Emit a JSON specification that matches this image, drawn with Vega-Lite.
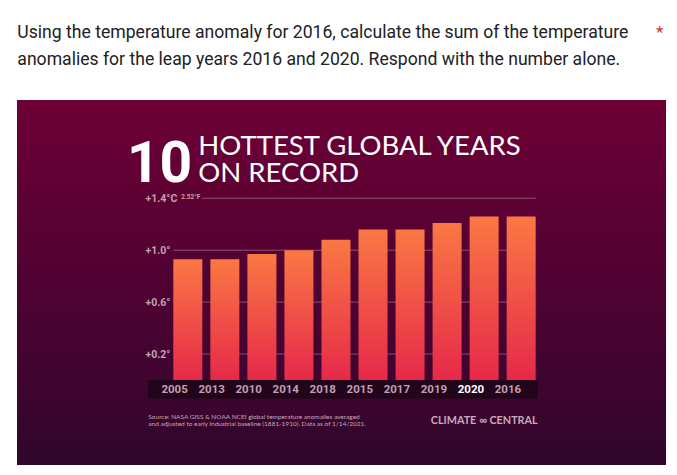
{
  "$schema": "https://vega.github.io/schema/vega-lite/v6.json",
  "width": 649,
  "height": 365,
  "autosize": {"type": "none"},
  "padding": {"left": 17, "top": 100, "right": 11, "bottom": 10},
  "background": "#ffffff",
  "config": {"view": {"stroke": null}},
  "data": {
    "values": [
      {"year": "2005", "anomaly": 0.93},
      {"year": "2013", "anomaly": 0.93},
      {"year": "2010", "anomaly": 0.97},
      {"year": "2014", "anomaly": 1.0},
      {"year": "2018", "anomaly": 1.08},
      {"year": "2015", "anomaly": 1.16},
      {"year": "2017", "anomaly": 1.16},
      {"year": "2019", "anomaly": 1.21},
      {"year": "2020", "anomaly": 1.26},
      {"year": "2016", "anomaly": 1.26}
    ]
  },
  "resolve": {"scale": {"x": "shared", "y": "shared"}},
  "layer": [
    {
      "data": {"values": [{"panel": "background"}]},
      "mark": {
        "type": "rect",
        "fill": {"gradient": "linear", "x1": 0, "y1": 0, "x2": 0, "y2": 1,
          "stops": [{"offset": 0, "color": "#6e0035"}, {"offset": 0.5, "color": "#500232"}, {"offset": 1, "color": "#30062d"}]}
      },
      "encoding": {}
    },
    {
      "data": {"values": [{"level": 1.0}, {"level": 0.6}, {"level": 0.2}]},
      "mark": {"type": "rule", "color": "#ffffff", "opacity": 0.32, "strokeWidth": 1},
      "encoding": {
        "y": {"field": "level", "type": "quantitative"},
        "x": {"datum": "2005", "type": "nominal", "bandPosition": 0},
        "x2": {"datum": "2016", "bandPosition": 1}
      }
    },
    {
      "data": {"values": [{"level": 1.4}]},
      "mark": {"type": "rule", "color": "#ffffff", "opacity": 0.32, "strokeWidth": 1},
      "encoding": {
        "y": {"field": "level", "type": "quantitative"},
        "x": {"datum": "2005", "type": "nominal", "bandPosition": 0.98},
        "x2": {"datum": "2016", "bandPosition": 1}
      }
    },
    {
      "data": {"values": [{"band": "labels"}]},
      "mark": {"type": "rect", "color": "#1c0618", "opacity": 0.85},
      "encoding": {
        "x": {"datum": "2005", "type": "nominal", "bandPosition": -0.872},
        "x2": {"datum": "2016", "bandPosition": 1.08},
        "y": {"datum": 0, "type": "quantitative"},
        "y2": {"datum": -0.142}
      }
    },
    {
      "mark": {
        "type": "bar",
        "fill": {"gradient": "linear", "x1": 0, "y1": 0, "x2": 0, "y2": 1,
          "stops": [{"offset": 0, "color": "#fa7843"}, {"offset": 1, "color": "#e6294a"}]}
      },
      "encoding": {
        "x": {
          "field": "year", "type": "nominal", "sort": null,
          "scale": {
            "type": "band",
            "domain": ["2005", "2013", "2010", "2014", "2018", "2015", "2017", "2019", "2020", "2016"],
            "range": [152.3, 522.7],
            "paddingInner": 0.217, "paddingOuter": 0.1085
          },
          "axis": {
            "orient": "bottom", "offset": -85, "title": null, "domain": false, "ticks": false, "tickSize": 0,
            "zindex": 2,
            "labelAngle": 0, "labelPadding": 9, "labelBaseline": "middle",
            "labelFont": "Roboto", "labelFontSize": 11.5,
            "labelFontWeight": "bold",
            "labelColor": {"condition": {"test": "datum.value == '2020'", "value": "#ffffff"}, "value": "#c79db3"}
          }
        },
        "y": {
          "field": "anomaly", "type": "quantitative",
          "scale": {"domain": [-0.655, 2.157], "nice": false, "zero": false},
          "axis": {
            "values": [0.2, 0.6, 1.0, 1.4],
            "labelExpr": "datum.value == 1.4 ? '+1.4°C' : '+' + format(datum.value, '.1f') + '°'",
            "offset": -128, "title": null, "domain": false, "ticks": false, "tickSize": 0, "grid": false,
            "zindex": 2,
            "labelAlign": "left", "labelPadding": 0, "labelBaseline": "middle",
            "labelFont": "Roboto", "labelFontSize": 10.5,
            "labelFontWeight": "bold", "labelColor": "#c4a0b4"
          }
        },
        "y2": {"datum": 0}
      }
    },
    {
      "data": {"values": [{"label": "2.52°F"}]},
      "mark": {"type": "text", "align": "left", "baseline": "middle", "font": "Roboto", "fontSize": 6.5, "fontWeight": "bold", "color": "#c4a0b4", "dy": -1.5},
      "encoding": {
        "x": {"datum": "2005", "type": "nominal", "bandPosition": 0.27},
        "y": {"datum": 1.4, "type": "quantitative"},
        "text": {"field": "label"}
      }
    },
    {
      "data": {"values": [{"label": "10"}]},
      "mark": {"type": "text", "align": "right", "baseline": "alphabetic", "font": "Roboto", "fontSize": 57, "fontWeight": "bold", "color": "#ffffff", "dx": 19},
      "encoding": {
        "x": {"datum": "2005", "type": "nominal", "bandPosition": 0},
        "y": {"datum": 1.528, "type": "quantitative"},
        "text": {"field": "label"}
      }
    },
    {
      "data": {"values": [{"label": ["HOTTEST GLOBAL YEARS", "ON RECORD"]}]},
      "mark": {"type": "text", "align": "left", "baseline": "alphabetic", "font": "Lato", "fontSize": 27.5, "fontWeight": "normal", "color": "#ffffff", "lineHeight": 27.5, "dx": 25},
      "encoding": {
        "x": {"datum": "2005", "type": "nominal", "bandPosition": 0},
        "y": {"datum": 1.737, "type": "quantitative"},
        "text": {"field": "label"}
      }
    },
    {
      "data": {"values": [{"label": ["Source: NASA GISS & NOAA NCEI global temperature anomalies averaged", "and adjusted to early industrial baseline (1881-1910). Data as of 1/14/2021."]}]},
      "mark": {"type": "text", "align": "left", "baseline": "middle", "font": "Lato", "fontSize": 6.5, "color": "#c7a9b9", "lineHeight": 7, "dx": -25},
      "encoding": {
        "x": {"datum": "2005", "type": "nominal", "bandPosition": 0},
        "y": {"datum": -0.289, "type": "quantitative"},
        "text": {"field": "label"}
      }
    },
    {
      "data": {"values": [{"label": "CLIMATE ∞ CENTRAL"}]},
      "mark": {"type": "text", "align": "right", "baseline": "middle", "font": "Lato", "fontSize": 10.8, "fontWeight": "bold", "color": "#c7a9b9", "dx": 2},
      "encoding": {
        "x": {"datum": "2016", "type": "nominal", "bandPosition": 1},
        "y": {"datum": -0.313, "type": "quantitative"},
        "text": {"field": "label"}
      }
    },
    {
      "data": {"values": [{"label": ["Using the temperature anomaly for 2016, calculate the sum of the temperature", "anomalies for the leap years 2016 and 2020. Respond with the number alone."]}]},
      "mark": {"type": "text", "align": "left", "baseline": "alphabetic", "font": "Roboto", "fontSize": 17.6, "color": "#202124", "lineHeight": 27, "dx": -156},
      "encoding": {
        "x": {"datum": "2005", "type": "nominal", "bandPosition": 0},
        "y": {"datum": 2.633, "type": "quantitative"},
        "text": {"field": "label"}
      }
    },
    {
      "data": {"values": [{"label": "*"}]},
      "mark": {"type": "text", "align": "center", "baseline": "alphabetic", "font": "Roboto", "fontSize": 17, "color": "#d93025", "dx": 124},
      "encoding": {
        "x": {"datum": "2016", "type": "nominal", "bandPosition": 1},
        "y": {"datum": 2.633, "type": "quantitative"},
        "text": {"field": "label"}
      }
    }
  ]
}
